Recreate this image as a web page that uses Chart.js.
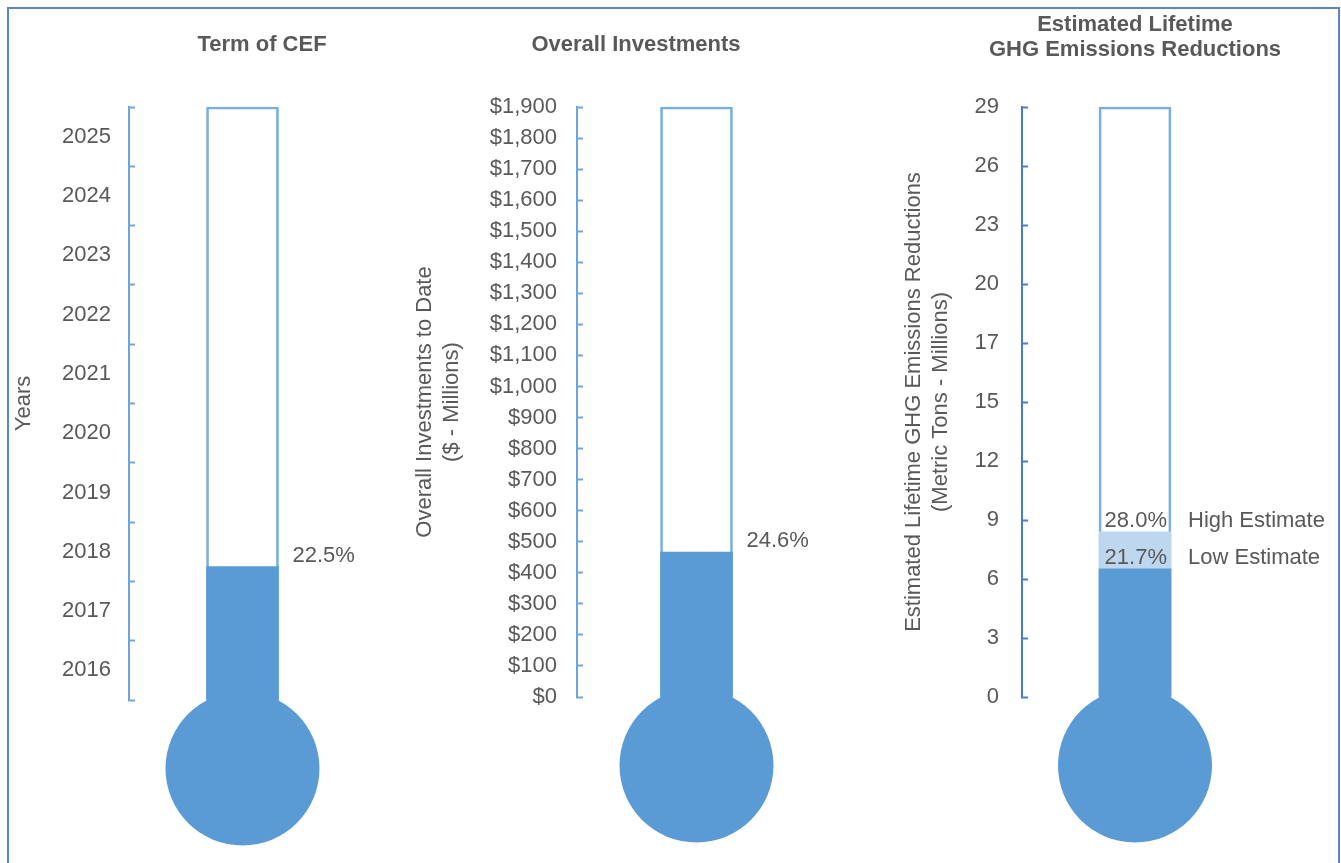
<!DOCTYPE html>
<html>
<head>
<meta charset="utf-8">
<script src="https://cdn.jsdelivr.net/npm/chart.js@4.4.1/dist/chart.umd.min.js"></script>
<style>
  html, body { margin: 0; padding: 0; background: #fff; overflow: hidden; }
  #frame { position: absolute; left: 7px; top: 7px; width: 1333px; height: 900px; border: 2px solid #5b86c5; box-sizing: border-box; }
  canvas { position: absolute; left: 0; top: 0; }
</style>
</head>
<body>
<div id="frame"></div>
<canvas id="term" width="1341" height="863"></canvas>
<canvas id="invest" width="1341" height="863"></canvas>
<canvas id="ghg" width="1341" height="863"></canvas>
<script>
// ---- data ----
const termYears = ["2016", "2017", "2018", "2019", "2020", "2021", "2022", "2023", "2024", "2025"];
const termFull = [100];          // whole CEF term, percent
const termElapsed = [22.5];      // elapsed share of the term

const investGoal = [1900];       // $ millions
const investToDate = [467];

const ghgTickLabels = ["0", "3", "6", "9", "12", "15", "17", "20", "23", "26", "29"];
const ghgGoal = [29];            // metric tons, millions
const ghgLow = [6.3];
const ghgHigh = [8.12];
const ghgSeries = ["Low Estimate", "High Estimate"];

const FONT = "'Liberation Sans', Arial, sans-serif";
const SIZE = 22;
const INK = "#595959";
const FILL = "#5B9BD5";
const PALE = "#BDD7EE";
const EDGE = "#7AAEE0";

Chart.defaults.font.family = FONT;
Chart.defaults.color = INK;

// round bulb under the tube
const bulb = {
  id: "bulb",
  afterDatasetsDraw(chart, args, opts) {
    const bar = chart.getDatasetMeta(0).data[0];
    const { x, width, base } = bar.getProps(["x", "width", "base"], true);
    const ctx = chart.ctx;
    ctx.save();
    ctx.fillStyle = FILL;
    ctx.fillRect(x - width / 2, base - 1, width, opts.drop);
    ctx.beginPath();
    ctx.arc(x, base + opts.drop, opts.radius, 0, Math.PI * 2);
    ctx.fill();
    ctx.restore();
  }
};

// percent labels next to / inside the fill
const notes = {
  id: "notes",
  afterDatasetsDraw(chart, args, opts) {
    const ctx = chart.ctx;
    const max = chart.scales.y.max;
    ctx.save();
    ctx.font = SIZE + "px " + FONT;
    ctx.fillStyle = INK;
    ctx.textBaseline = "alphabetic";
    opts.items.forEach((item) => {
      const bar = chart.getDatasetMeta(item.dataset).data[0];
      const { x, y, width } = bar.getProps(["x", "y", "width"], true);
      const value = chart.data.datasets[item.dataset].data[0];
      const pct = ((value / max) * 100).toFixed(1) + "%";
      const right = x + width / 2;
      const baseY = y - 5;
      if (item.inside) {
        ctx.textAlign = "right";
        ctx.fillText(pct, right - 4, baseY);
      } else {
        ctx.textAlign = "left";
        ctx.fillText(pct, right + 14, baseY);
      }
      if (item.legend) {
        ctx.textAlign = "left";
        ctx.fillText(item.legend, right + 17, baseY);
      }
    });
    ctx.restore();
  }
};

// chart heading, centred over the chart object
const heading = {
  id: "heading",
  afterDraw(chart, args, opts) {
    const ctx = chart.ctx;
    ctx.save();
    ctx.font = "bold " + SIZE + "px " + FONT;
    ctx.fillStyle = INK;
    ctx.textAlign = "center";
    ctx.textBaseline = "middle";
    opts.lines.forEach((t, i) => ctx.fillText(t, opts.x, opts.y + i * 25));
    ctx.restore();
  }
};

function thermometer(id, c) {
  const datasets = c.fills.map((f) => ({
    data: f.data,
    backgroundColor: f.color,
    borderWidth: 0,
    grouped: false,
    barThickness: 72,
    clip: false
  }));
  datasets.push({
    data: c.full,
    backgroundColor: "rgba(255,255,255,0)",
    borderColor: EDGE,
    borderWidth: 2,
    grouped: false,
    barThickness: 72,
    clip: false
  });

  return new Chart(document.getElementById(id), {
    type: "bar",
    data: { labels: [c.name], datasets },
    plugins: [bulb, notes, heading],
    options: {
      responsive: false,
      animation: false,
      devicePixelRatio: 1,
      layout: { padding: c.padding },
      plugins: {
        legend: { display: false },
        tooltip: { enabled: false },
        bulb: { radius: 77, drop: 69 },
        notes: { items: c.notes },
        heading: c.heading
      },
      scales: {
        x: { display: false },
        y: {
          min: 0,
          max: c.full[0],
          afterFit: (s) => { s.width = c.axisWidth; },
          border: { display: true, color: c.axisColor, width: 2 },
          grid: {
            drawOnChartArea: false,
            tickLength: -6,
            tickWidth: 2,
            tickColor: c.tickColor || c.axisColor
          },
          ticks: {
            stepSize: c.step,
            autoSkip: false,
            padding: c.tickPad,
            color: INK,
            font: { size: SIZE },
            callback: c.tickText
          },
          title: {
            display: true,
            text: c.title,
            color: INK,
            font: { size: SIZE, lineHeight: 1.25 },
            padding: { top: 4, bottom: 4 }
          }
        }
      }
    }
  });
}

thermometer("term", {
  name: "Term of CEF",
  full: termFull,
  fills: [{ data: termElapsed, color: FILL }],
  notes: [{ dataset: 0 }],
  heading: { lines: ["Term of CEF"], x: 262, y: 45 },
  padding: { left: 6, right: 985, top: 107, bottom: 163 },
  axisWidth: 123,
  axisColor: "#6EA6DC",
  tickColor: (ctx) => (ctx.tick && ctx.tick.value % 10 === 0 ? "#6EA6DC" : "rgba(0,0,0,0)"),
  step: 5,
  tickPad: 24,
  tickText: (v) => (v % 10 === 5 ? termYears[(v - 5) / 10] : ""),
  title: "Years"
});

thermometer("invest", {
  name: "Overall Investments",
  full: investGoal,
  fills: [{ data: investToDate, color: FILL }],
  notes: [{ dataset: 0 }],
  heading: { lines: ["Overall Investments"], x: 636, y: 45 },
  padding: { left: 407, right: 525, top: 107, bottom: 166 },
  axisWidth: 170,
  axisColor: "#6EA6DC",
  step: 100,
  tickPad: 26,
  tickText: (v) => "$" + v.toLocaleString("en-US"),
  title: ["Overall Investments to Date", "($ - Millions)"]
});

thermometer("ghg", {
  name: "Estimated Lifetime GHG Emissions Reductions",
  full: ghgGoal,
  fills: [
    { data: ghgLow, color: FILL },
    { data: ghgHigh, color: PALE }
  ],
  notes: [
    { dataset: 1, inside: true, legend: ghgSeries[1] },
    { dataset: 0, inside: true, legend: ghgSeries[0] }
  ],
  heading: { lines: ["Estimated Lifetime", "GHG Emissions Reductions"], x: 1135, y: 25 },
  padding: { left: 896, right: 93, top: 107, bottom: 166 },
  axisWidth: 126,
  axisColor: "#4A7BCF",
  step: 2.9,
  tickPad: 29,
  tickText: (v, i) => ghgTickLabels[i],
  title: ["Estimated Lifetime GHG Emissions Reductions", "(Metric Tons - Millions)"]
});
</script>
</body>
</html>
